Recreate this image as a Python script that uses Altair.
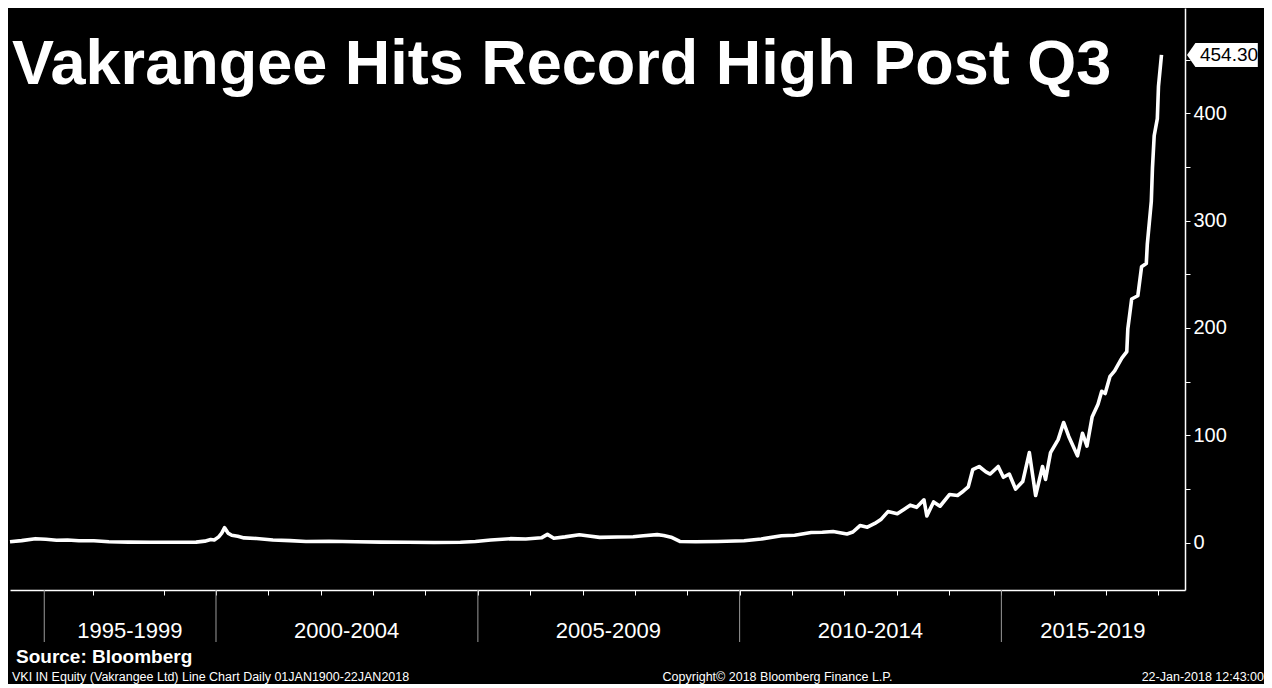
import altair as alt
import pandas as pd

# ---------------- data ----------------
dates = [
    "1996-01-25", "1996-04-15", "1996-07-20", "1996-10-01", "1996-12-15",
    "1997-03-01", "1997-05-20", "1997-09-01", "1997-12-15", "1998-05-01",
    "1998-10-01", "1999-03-01", "1999-08-15", "1999-10-15", "1999-11-25",
    "1999-12-20", "2000-01-20", "2000-02-10", "2000-03-01", "2000-03-25",
    "2000-04-20", "2000-06-01", "2000-07-15", "2000-10-10", "2001-02-01",
    "2001-06-01", "2001-09-20", "2002-03-01", "2002-09-01", "2003-03-01",
    "2003-09-01", "2004-03-01", "2004-09-01", "2004-12-15", "2005-04-01",
    "2005-08-15", "2005-12-01", "2006-03-20", "2006-05-01", "2006-06-15",
    "2006-09-01", "2006-12-10", "2007-02-01", "2007-05-01", "2007-09-01",
    "2007-12-20", "2008-03-01", "2008-06-05", "2008-07-20", "2008-09-10",
    "2008-11-10", "2009-03-01", "2009-08-01", "2010-02-01", "2010-06-01",
    "2010-10-20", "2011-01-20", "2011-05-15", "2011-08-01", "2011-10-15",
    "2012-01-20", "2012-03-01", "2012-04-20", "2012-06-10", "2012-08-01",
    "2012-09-15", "2012-11-01", "2013-01-05", "2013-02-20", "2013-04-05",
    "2013-05-20", "2013-07-10", "2013-07-30", "2013-09-15", "2013-10-30",
    "2014-01-05", "2014-03-01", "2014-04-10", "2014-05-15", "2014-06-15",
    "2014-07-30", "2014-09-15", "2014-10-15", "2014-12-10", "2015-01-15",
    "2015-02-25", "2015-04-10", "2015-05-30", "2015-07-15", "2015-08-28",
    "2015-10-15", "2015-11-05", "2015-12-10", "2016-02-01", "2016-03-10",
    "2016-04-15", "2016-06-15", "2016-07-20", "2016-08-20", "2016-09-25",
    "2016-11-05", "2016-12-01", "2016-12-25", "2017-01-28", "2017-03-01",
    "2017-04-20", "2017-05-25", "2017-06-01", "2017-06-28", "2017-08-10",
    "2017-09-05", "2017-10-08", "2017-10-15", "2017-11-12", "2017-11-20",
    "2017-12-02", "2017-12-24", "2018-01-01", "2018-01-22",
]
prices = [
    1.0, 2.0, 3.8, 3.2, 2.4,
    2.6, 1.8, 1.9, 1.0, 0.6,
    0.4, 0.4, 0.6, 1.5, 3.0,
    2.5, 5.5, 9.0, 14.0, 9.0,
    7.0, 6.0, 4.5, 4.0, 2.5,
    2.0, 1.2, 1.4, 0.9, 0.6,
    0.5, 0.3, 0.4, 1.2, 2.5,
    3.8, 3.5, 4.6, 7.8, 4.2,
    5.5, 7.5, 6.5, 5.0, 5.3,
    5.6, 6.5, 7.6, 6.8, 5.2,
    1.2, 0.9, 1.2, 1.8, 3.5,
    6.5, 7.0, 9.5, 9.8, 10.5,
    8.2, 10.0, 16.0, 14.5, 18.0,
    22.0, 29.0, 27.0, 31.0, 35.0,
    33.0, 40.0, 25.0, 38.0, 34.0,
    45.0, 44.0, 48.0, 52.0, 68.0,
    71.0, 66.0, 64.0, 71.0, 61.0,
    64.0, 50.0, 57.0, 84.0, 44.0,
    71.0, 59.0, 84.0, 96.0, 112.0,
    99.0, 81.0, 102.0, 90.0, 117.0,
    129.0, 141.0, 139.0, 155.0, 160.0,
    172.0, 178.0, 199.0, 227.0, 230.0,
    257.0, 260.0, 278.0, 318.0, 349.0,
    379.0, 395.0, 425.0, 454.3,
]

period_labels = ["1995-1999", "2000-2004", "2005-2009", "2010-2014", "2015-2019"]
period_centers = ["1998-05-10", "2002-07-01", "2007-07-01", "2012-07-01", "2016-10-01"]
separator_dates = ["1996-09-20", "2000-01-01", "2005-01-01", "2010-01-01", "2015-01-01"]
tick_years = list(range(1999, 2019))
y_tick_values = [0, 50, 100, 150, 200, 250, 300, 350, 400, 450]
last_label = "454.30"

title_text = "Vakrangee Hits Record High Post Q3"
source_text = "Source: Bloomberg"
desc_text = "VKI IN Equity (Vakrangee Ltd) Line Chart  Daily 01JAN1900-22JAN2018"
copyright_text = "Copyright\u00a9 2018 Bloomberg Finance L.P."
stamp_text = "22-Jan-2018 12:43:00"

# ---------------- chart ----------------
W, H = 1175, 582
FONT = "Liberation Sans"

df = pd.DataFrame({"date": dates, "price": prices})
df_sep = pd.DataFrame({"date": separator_dates})
df_per = pd.DataFrame({"date": period_centers, "label": period_labels})
df_last = pd.DataFrame({"date": [dates[-1]], "price": [prices[-1]], "label": [last_label]})

xscale = alt.Scale(domain=[alt.DateTime(year=1996, month=1, date=25),
                           alt.DateTime(year=2018, month=7, date=5)])
yscale = alt.Scale(domain=[-44, 498], nice=False, zero=False)

x_ticks = [alt.DateTime(year=1997, month=8, date=23)] + [alt.DateTime(year=y) for y in tick_years]

x_axis = alt.Axis(values=x_ticks, labels=False, title=None, grid=False,
                  tickSize=5, tickColor="white", tickWidth=1,
                  domainColor="white", domainWidth=1.5)
y_axis = alt.Axis(orient="right", values=y_tick_values, title=None, grid=False,
                  labelExpr="datum.value % 100 == 0 ? datum.label : ''",
                  labelColor="white", labelFontSize=20, labelFont=FONT,
                  labelPadding=3, tickSize=5, tickColor="white",
                  domainColor="white", domainWidth=1.5)

line = alt.Chart(df).mark_line(color="white", strokeWidth=3.6, strokeJoin="round").encode(
    x=alt.X("date:T", scale=xscale, axis=x_axis),
    y=alt.Y("price:Q", scale=yscale, axis=y_axis),
)

seps = alt.Chart(df_sep).mark_rule(color="#9a9a9a", strokeWidth=1).encode(
    x=alt.X("date:T"),
    y=alt.value(H),
    y2=alt.value(H + 52),
)

periods = alt.Chart(df_per).mark_text(
    color="white", fontSize=22, font=FONT, align="center", baseline="middle"
).encode(
    x=alt.X("date:T"),
    y=alt.value(H + 41),
    text="label:N",
)

tag_shape = "M -2.9 0 L -2.2 -1 L 3 -1 L 3 1 L -2.2 1 Z"
tag = alt.Chart(df_last).mark_point(
    shape=tag_shape, filled=True, fill="white", opacity=1, size=576, strokeWidth=0
).encode(
    x=alt.value(W + 2 + 2.9 * 12),
    y=alt.Y("price:Q"),
)
tag_text = alt.Chart(df_last).mark_text(
    color="black", fontSize=19, font=FONT, align="center", baseline="middle"
).encode(
    x=alt.value(W + 44),
    y=alt.Y("price:Q"),
    text="label:N",
)


def label(text, x, y, size, weight="normal", align="left"):
    return alt.Chart(pd.DataFrame({"t": [text]})).mark_text(
        color="white", fontSize=size, fontWeight=weight, font=FONT,
        align=align, baseline="alphabetic"
    ).encode(x=alt.value(x), y=alt.value(y), text="t:N")


title = label(title_text, 2, 76, 63, "bold")
source = label(source_text, 6, H + 73, 19, "bold")
desc = label(desc_text, 2, H + 91, 12.5)
copy_ = label(copyright_text, 778 * W / 1191, H + 91, 12.5, align="center")
stamp = label(stamp_text, W + 79, H + 91, 12.5, align="right")

chart = alt.layer(
    line, seps, periods, tag, tag_text, title, source, desc, copy_, stamp
).properties(
    width=W, height=H, background="black",
    padding={"left": 0, "top": 0, "right": 0, "bottom": 0},
).configure_view(stroke=None)

chart.save("out.html", embed_options={"renderer": "svg", "actions": False})
